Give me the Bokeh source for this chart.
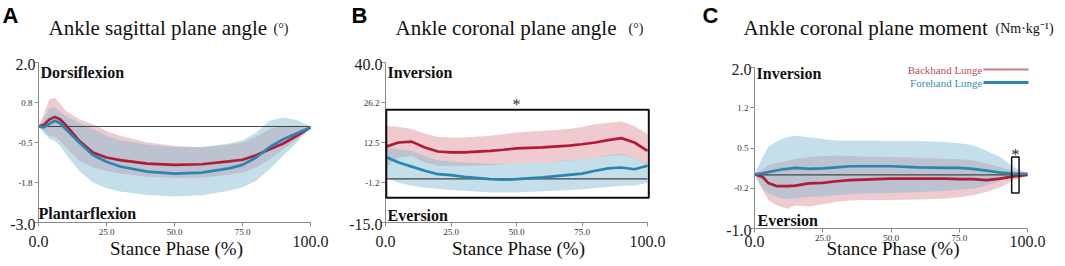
from bokeh.plotting import figure
from bokeh.layouts import row
from bokeh.models import Range1d, FixedTicker, Label, BoxAnnotation, Arrow
from bokeh.embed import file_html
from bokeh.resources import INLINE

# ---------------- data ----------------
# Panel A: Ankle sagittal plane angle
xa = [0, 2, 4, 6, 8, 10, 15, 20, 25, 30, 40, 50, 60, 70, 75, 80, 85, 90, 95, 100]
a_back_mean = [0, 0.05, 0.22, 0.3, 0.22, 0.05, -0.45, -0.81, -0.97, -1.05, -1.16, -1.2, -1.18, -1.09, -1.04, -0.9, -0.71, -0.53, -0.29, -0.03]
a_back_up = [0, 0.4, 0.85, 0.9, 0.7, 0.49, 0.23, 0.07, -0.14, -0.29, -0.5, -0.6, -0.66, -0.57, -0.5, -0.32, -0.08, 0.02, 0.02, 0]
a_back_lo = [0, -0.15, -0.3, -0.32, -0.45, -0.65, -1.07, -1.28, -1.39, -1.47, -1.57, -1.61, -1.6, -1.51, -1.44, -1.28, -1.02, -0.71, -0.4, -0.03]
a_fore_mean = [0, -0.03, 0.08, 0.18, 0.1, -0.08, -0.5, -0.89, -1.1, -1.25, -1.41, -1.47, -1.44, -1.31, -1.2, -0.97, -0.64, -0.4, -0.21, -0.03]
a_fore_up = [0, 0.25, 0.55, 0.6, 0.45, 0.33, 0.12, -0.08, -0.29, -0.43, -0.57, -0.64, -0.64, -0.53, -0.43, -0.19, 0.18, 0.28, 0.2, 0]
a_fore_lo = [0, -0.2, -0.38, -0.45, -0.62, -0.86, -1.39, -1.75, -1.93, -2.03, -2.14, -2.19, -2.15, -2.01, -1.9, -1.7, -1.33, -0.91, -0.5, -0.03]
a_yticks = [-3.0, -1.75, -0.5, 0.75, 2.0]
a_ylabels = ["-3.0", "-1.8", "-0.5", "0.8", "2.0"]

# Panel B: Ankle coronal plane angle
xb = [0, 5, 10, 15, 20, 25, 30, 40, 45, 50, 60, 70, 75, 80, 85, 90, 95, 100]
b_back_mean = [11.0, 12.5, 12.8, 10.8, 9.4, 9.1, 9.1, 9.6, 10.0, 10.5, 10.8, 11.4, 11.9, 12.5, 13.3, 14.0, 12.5, 9.6]
b_back_up = [18.2, 17.9, 17.1, 15.6, 14.4, 14.2, 14.2, 14.8, 15.3, 15.9, 16.5, 17.1, 17.8, 18.8, 19.3, 19.7, 18.2, 15.4]
b_back_lo = [3.9, 7.3, 7.9, 5.6, 4.5, 4.5, 4.5, 4.7, 5.0, 5.3, 5.6, 6.2, 6.7, 7.3, 7.8, 8.3, 7.3, 4.5]
b_fore_mean = [7.6, 5.6, 4.2, 2.8, 1.6, 1.3, 0.7, -0.1, -0.3, -0.1, 0.5, 1.4, 1.8, 2.8, 3.6, 3.9, 3.3, 4.5]
b_fore_up = [10.8, 10.2, 9.6, 7.9, 6.4, 6.0, 5.6, 5.1, 5.1, 5.3, 5.6, 6.4, 6.8, 7.3, 8.0, 8.7, 7.3, 5.1]
b_fore_lo = [0.5, -1.3, -2.4, -3.0, -3.5, -3.8, -4.1, -4.7, -4.7, -4.7, -4.3, -3.9, -3.6, -3.2, -2.8, -2.4, -2.4, -1.3]
b_yticks = [-15.0, -1.25, 12.5, 26.25, 40.0]
b_ylabels = ["-15.0", "-1.2", "12.5", "26.2", "40.0"]

# Panel C: Ankle coronal plane moment
xc = [0, 3, 5, 8, 10, 12, 15, 20, 25, 30, 35, 40, 50, 60, 70, 75, 80, 85, 90, 95, 100]
c_fore_mean = [0.01, 0.03, 0.05, 0.08, 0.1, 0.11, 0.13, 0.11, 0.12, 0.14, 0.16, 0.16, 0.16, 0.14, 0.13, 0.13, 0.11, 0.08, 0.04, 0.02, 0.02]
c_back_mean = [0.01, -0.04, -0.15, -0.21, -0.21, -0.21, -0.2, -0.16, -0.15, -0.12, -0.1, -0.09, -0.07, -0.07, -0.07, -0.08, -0.08, -0.1, -0.07, -0.03, 0.0]
c_fore_up = [0.01, 0.33, 0.52, 0.62, 0.67, 0.7, 0.73, 0.7, 0.67, 0.64, 0.64, 0.64, 0.63, 0.63, 0.61, 0.59, 0.55, 0.45, 0.33, 0.14, 0.03]
c_fore_lo = [0.01, -0.25, -0.35, -0.41, -0.44, -0.45, -0.44, -0.41, -0.4, -0.38, -0.36, -0.35, -0.34, -0.32, -0.3, -0.28, -0.26, -0.2, -0.1, -0.03, 0.0]
c_back_up = [0.01, 0.1, 0.18, 0.22, 0.24, 0.26, 0.3, 0.33, 0.35, 0.36, 0.35, 0.34, 0.33, 0.32, 0.3, 0.29, 0.27, 0.21, 0.14, 0.07, 0.02]
c_back_lo = [0.01, -0.29, -0.47, -0.56, -0.6, -0.63, -0.57, -0.59, -0.55, -0.5, -0.48, -0.47, -0.47, -0.46, -0.44, -0.42, -0.38, -0.32, -0.23, -0.1, -0.02]
c_yticks = [-1.0, -0.25, 0.5, 1.25, 2.0]
c_ylabels = ["-1.0", "-0.2", "0.5", "1.2", "2.0"]

xticks = [0.0, 25.0, 50.0, 75.0, 100.0]
xlabels = ["0.0", "25.0", "50.0", "75.0", "100.0"]
zero_level = 0.0
series_names = ["Backhand Lunge", "Forehand Lunge"]

RED = "#B31B34"
BLUE = "#2A86AE"
RED_FILL = "#D8828F"
BLUE_FILL = "#7FB9D0"
SERIF = "Liberation Serif"
SANS = "Liberation Sans"
H = 266


def make_panel(width, frame, yr, yticks, ylabels, x, back, fore, letter, title, unit, up_txt, down_txt):
    fl, ft, fr, fb, off = frame  # page coords of the data area and figure page offset
    # the plot frame covers the whole figure; the ranges are widened so the data area sits where it should
    xs = 100.0 / (fr - fl)
    ys = (yr[1] - yr[0]) / (fb - ft)
    x_range = Range1d(0 - (fl - off) * xs, 100 + (off + width - fr) * xs)
    y_range = Range1d(yr[0] - (H - fb) * ys, yr[1] + ft * ys)
    p = figure(width=width, height=H, x_range=x_range, y_range=y_range,
               output_backend="svg", toolbar_location=None, title=None,
               min_border=0, min_border_left=0, min_border_right=0,
               min_border_top=0, min_border_bottom=0)
    p.grid.visible = False
    p.outline_line_color = None
    p.background_fill_color = None
    p.border_fill_color = None

    # bands and means
    p.varea(x=x, y1=back[2], y2=back[1], fill_color=RED_FILL, fill_alpha=0.42)
    p.varea(x=x, y1=fore[2], y2=fore[1], fill_color=BLUE_FILL, fill_alpha=0.45)
    p.line([xticks[0], xticks[-1]], [zero_level, zero_level], line_color="#444444", line_width=1.2)
    p.line(x, back[0], line_color=RED, line_width=2.7)
    p.line(x, fore[0], line_color=BLUE, line_width=2.7)

    p.xaxis[0].fixed_location = yr[0]
    p.xaxis[0].bounds = (xticks[0], xticks[-1])
    p.yaxis[0].fixed_location = xticks[0]
    p.yaxis[0].bounds = (yticks[0], yticks[-1])
    for ax, ticks, labels in ((p.xaxis[0], xticks, xlabels), (p.yaxis[0], yticks, ylabels)):
        ax.ticker = FixedTicker(ticks=ticks, minor_ticks=[])
        ov = {float(t): l for t, l in zip(ticks, labels)}
        ov[float(ticks[0])] = ""
        ov[float(ticks[-1])] = ""
        ax.major_label_overrides = ov
        ax.axis_line_color = "#8a8a8a"
        ax.major_tick_line_color = "#8a8a8a"
        ax.major_tick_out = 4
        ax.major_tick_in = 0
        ax.minor_tick_line_color = None
        ax.major_label_text_font = SERIF
        ax.major_label_text_font_size = "9px"
        ax.major_label_text_color = "#333333"
        ax.major_label_standoff = 2

    def lab(px, py, text, size, font=SERIF, style="normal", align="left", base="middle", color="#111111"):
        p.add_layout(Label(x=px - off, y=H - py, x_units="screen", y_units="screen", text=text,
                           text_font=font, text_font_size=size, text_font_style=style,
                           text_align=align, text_baseline=base, text_color=color))

    # big end tick labels
    for t, l in ((yticks[0], ylabels[0]), (yticks[-1], ylabels[-1])):
        py = fb - (t - yr[0]) / (yr[1] - yr[0]) * (fb - ft)
        lab(fl - 3, py + 2, l, "16px", align="right", color="#222222")
    lab(fl, 241, xlabels[0], "16px", align="center", color="#222222")
    lab(fr, 241, xlabels[-1], "16px", align="center", color="#222222")
    lab((fl + fr) / 2 + 2, 248, "Stance Phase (%)", "19px", align="center")

    # titles and letters
    lab(letter[1], 2, letter[0], "22px", font=SANS, style="bold", base="top", color="#000000")
    lab(title[1], 27, title[0], "21px")
    lab(unit[1], 28, unit[0], unit[2])

    lab(up_txt[1], up_txt[2], up_txt[0], "16px", style="bold")
    lab(down_txt[1], down_txt[2], down_txt[0], "16px", style="bold")
    return p, lab


pa, la = make_panel(348, (38, 62, 310, 222, 0), (-3.0, 2.0), a_yticks, a_ylabels, xa,
                    (a_back_mean, a_back_up, a_back_lo), (a_fore_mean, a_fore_up, a_fore_lo),
                    ("A", 2), ("Ankle sagittal plane angle", 48), ("(°)", 273, "14px"),
                    ("Dorsiflexion", 40, 72), ("Plantarflexion", 38, 213))

pb, lb = make_panel(352, (385, 62, 647, 222, 348), (-15.0, 40.0), b_yticks, b_ylabels, xb,
                    (b_back_mean, b_back_up, b_back_lo), (b_fore_mean, b_fore_up, b_fore_lo),
                    ("B", 351), ("Ankle coronal plane angle", 395), ("(°)", 628, "14px"),
                    ("Inversion", 387, 72), ("Eversion", 387, 215))
pb.add_layout(BoxAnnotation(left=0.3, right=100.5, top=23.8, bottom=-6.5, fill_alpha=0,
                            line_color="#111111", line_alpha=1, line_width=2))
lb(516, 104, "*", "16px", align="center", color="#333333")

pc, lc = make_panel(365, (754, 67, 1027, 228, 700), (-1.0, 2.0), c_yticks, c_ylabels, xc,
                    (c_back_mean, c_back_up, c_back_lo), (c_fore_mean, c_fore_up, c_fore_lo),
                    ("C", 702), ("Ankle coronal plane moment", 743), ("(Nm·kg⁻¹)", 995, "14px"),
                    ("Inversion", 756, 73), ("Eversion", 757, 220))
pc.add_layout(BoxAnnotation(left=94.2, right=96.9, top=0.33, bottom=-0.34, fill_alpha=0,
                            line_color="#111111", line_alpha=1, line_width=1.5))
lc(1015, 154, "*", "16px", align="center", color="#222222")
# legend
lc(982, 69, series_names[0], "11px", align="right", color="#C04A5A")
lc(982, 82, series_names[1], "11px", align="right", color="#3A8FB5")
for py, col, w in ((69, "#D07A84", 2), (82, "#2A86AE", 3)):
    pc.add_layout(Arrow(x_start=983 - 700, y_start=H - py, x_end=1028 - 700, y_end=H - py,
                        start_units="screen", end_units="screen", end=None, start=None,
                        line_color=col, line_width=w))

layout = row(pa, pb, pc)
open("out.html", "w").write(file_html(layout, INLINE))
